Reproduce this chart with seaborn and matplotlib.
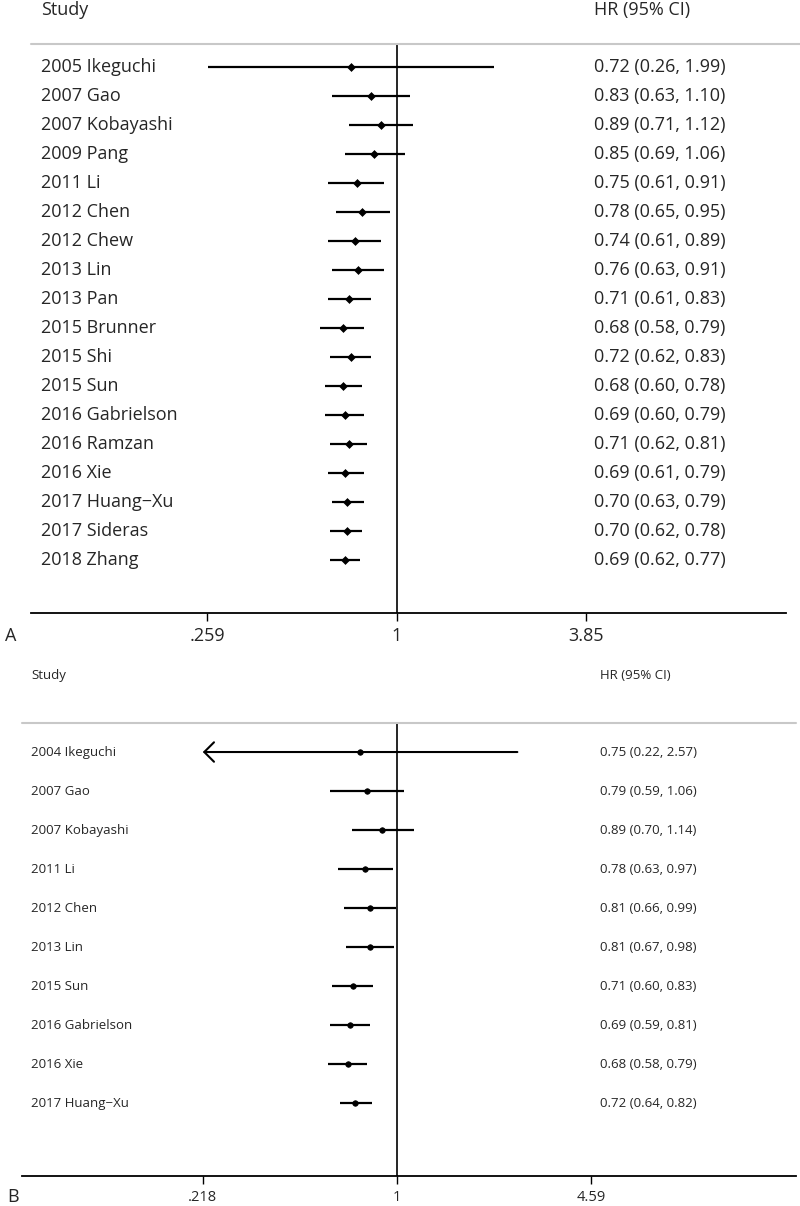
"""
plot.py
- cumulative meta-analysis forest plots (panels A and B)
"""

import matplotlib
matplotlib.use("Agg")
import matplotlib.pyplot as plt
import matplotlib.transforms as mtransforms
import seaborn as sns
import numpy as np
import pandas as pd

# panel A data
studies_a = ["2005 Ikeguchi", "2007 Gao", "2007 Kobayashi", "2009 Pang", "2011 Li",
             "2012 Chen", "2012 Chew", "2013 Lin", "2013 Pan", "2015 Brunner",
             "2015 Shi", "2015 Sun", "2016 Gabrielson", "2016 Ramzan", "2016 Xie",
             "2017 Huang\u2212Xu", "2017 Sideras", "2018 Zhang"]
hr_a = [0.72, 0.83, 0.89, 0.85, 0.75, 0.78, 0.74, 0.76, 0.71, 0.68,
        0.72, 0.68, 0.69, 0.71, 0.69, 0.70, 0.70, 0.69]
lo_a = [0.26, 0.63, 0.71, 0.69, 0.61, 0.65, 0.61, 0.63, 0.61, 0.58,
        0.62, 0.60, 0.60, 0.62, 0.61, 0.63, 0.62, 0.62]
hi_a = [1.99, 1.10, 1.12, 1.06, 0.91, 0.95, 0.89, 0.91, 0.83, 0.79,
        0.83, 0.78, 0.79, 0.81, 0.79, 0.79, 0.78, 0.77]
ticks_a = [0.259, 1, 3.85]
ticklabels_a = [".259", "1", "3.85"]

# panel B data
studies_b = ["2004 Ikeguchi", "2007 Gao", "2007 Kobayashi", "2011 Li", "2012 Chen",
             "2013 Lin", "2015 Sun", "2016 Gabrielson", "2016 Xie", "2017 Huang\u2212Xu"]
hr_b = [0.75, 0.79, 0.89, 0.78, 0.81, 0.81, 0.71, 0.69, 0.68, 0.72]
lo_b = [0.22, 0.59, 0.70, 0.63, 0.66, 0.67, 0.60, 0.59, 0.58, 0.64]
hi_b = [2.57, 1.06, 1.14, 0.97, 0.99, 0.98, 0.83, 0.81, 0.79, 0.82]
clipped_b = [True, False, False, False, False, False, False, False, False, False]
ticks_b = [0.218, 1, 4.59]
ticklabels_b = [".218", "1", "4.59"]

sns.set_style("white")
FONT = ["Open Sans", "DejaVu Sans"]
plt.rcParams["font.family"] = FONT

W, H = 800, 1206
fig = plt.figure(figsize=(W / 100, H / 100), dpi=100)


def px_axes(left, right, top, bottom):
    return fig.add_axes([left / W, 1 - bottom / H, (right - left) / W, (bottom - top) / H])


def forest(ax, studies, hr, lo, hi, ticks, ticklabels, xlim, ylim, fs, tick_fs,
           label_x, hr_x, marker, msize, gray_end, clipped=None):
    n = len(studies)
    df = pd.DataFrame({"study": studies, "hr": hr, "lo": lo, "hi": hi, "row": np.arange(n)})
    ax.set_xscale("log")
    ax.set_xlim(*xlim)
    ax.set_ylim(*ylim)
    ax.axvline(1, color="black", lw=1.2, zorder=1)
    for i, r in df.iterrows():
        if clipped is not None and clipped[i]:
            ax.annotate("", xy=(ticks[0], r.row), xytext=(r.hi, r.row),
                        arrowprops=dict(arrowstyle="->,head_length=0.35,head_width=0.35",
                                        lw=1.5, color="black", shrinkA=0, shrinkB=0,
                                        mutation_scale=20))
        else:
            ax.hlines(r.row, r.lo, r.hi, color="black", lw=1.6, zorder=2)
    sns.scatterplot(data=df, x="hr", y="row", ax=ax, marker=marker, s=msize,
                    color="black", edgecolor="black", linewidth=0.5, zorder=3, legend=False)
    ax.set_xlabel("")
    ax.set_ylabel("")
    ax.set_yticks([])
    ax.set_xticks(ticks)
    ax.set_xticklabels(ticklabels, fontsize=tick_fs)
    ax.xaxis.set_minor_locator(plt.NullLocator())
    ax.tick_params(axis="x", length=6, width=1, color="black", direction="out",
                   pad=4, bottom=True)
    for s in ["left", "right", "top"]:
        ax.spines[s].set_visible(False)
    ax.spines["bottom"].set_color("black")
    ax.spines["bottom"].set_linewidth(1.3)

    # light rule under the header, running a bit past the axis
    pos = ax.get_position()
    xmax = (gray_end / W - pos.x0) / pos.width
    ax.axhline(ylim[1], xmin=0, xmax=xmax, color="#c8c8c8", lw=1.5, clip_on=False)

    tr = mtransforms.blended_transform_factory(fig.transFigure, ax.transData)
    for i, r in df.iterrows():
        ax.text(label_x / W, r.row, r.study, transform=tr, fontsize=fs,
                va="center", ha="left", clip_on=False)
        ax.text(hr_x / W, r.row, f"{r.hr:.2f} ({r.lo:.2f}, {r.hi:.2f})", transform=tr,
                fontsize=fs, va="center", ha="left", clip_on=False)
    return tr


# panel A
ax_a = px_axes(31, 786, 44, 613)
tr_a = forest(ax_a, studies_a, hr_a, lo_a, hi_a, ticks_a, ticklabels_a,
              xlim=(0.0739, 15.94), ylim=(18.83, -0.793), fs=13, tick_fs=13,
              label_x=41, hr_x=594, marker="D", msize=16, gray_end=800)
ax_a.text(41 / W, -1.97, "Study", transform=tr_a, fontsize=13, va="center", clip_on=False)
ax_a.text(594 / W, -1.97, "HR (95% CI)", transform=tr_a, fontsize=13, va="center", clip_on=False)
fig.text(5 / W, 1 - 636 / H, "A", fontsize=13, va="center", ha="left")

# panel B
ax_b = px_axes(22, 796, 723, 1176)
tr_b = forest(ax_b, studies_b, hr_b, lo_b, hi_b, ticks_b, ticklabels_b,
              xlim=(0.0528, 22.86), ylim=(10.87, -0.744), fs=9.5, tick_fs=10.5,
              label_x=31, hr_x=600, marker="o", msize=16, gray_end=796, clipped=clipped_b)
ax_b.text(31 / W, -1.95, "Study", transform=tr_b, fontsize=9.5, va="center", clip_on=False)
ax_b.text(600 / W, -1.95, "HR (95% CI)", transform=tr_b, fontsize=9.5, va="center", clip_on=False)
fig.text(7 / W, 1 - 1197 / H, "B", fontsize=13, va="center", ha="left")

fig.savefig("out.png", dpi=100)
plt.close(fig)
